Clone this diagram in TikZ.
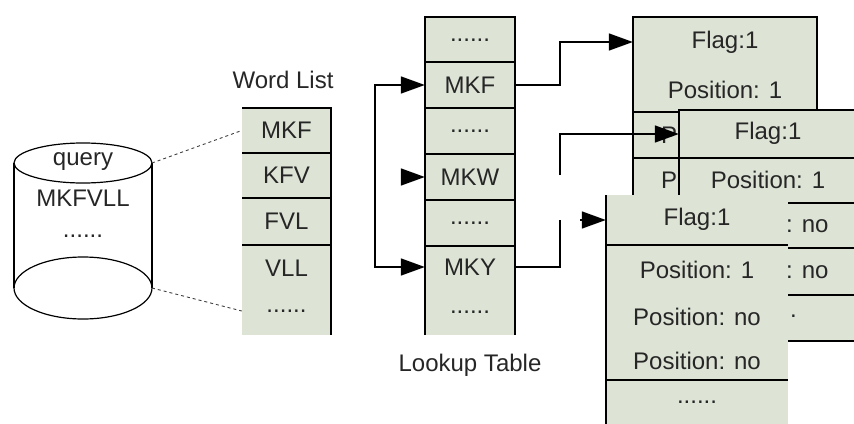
\documentclass[tikz,border=0pt]{standalone}
\usepackage{fontspec}
\setmainfont{Liberation Sans}
\usetikzlibrary{arrows.meta}
\definecolor{cellfill}{RGB}{221,228,214}
\begin{document}
\begin{tikzpicture}[x=1pt,y=-1pt,
  font=\fontsize{24}{28}\selectfont,
  ln/.style={line width=1.6pt, black},
  arr/.style={line width=1.6pt, black, -{Triangle[length=24pt,width=17pt]}},
  dsh/.style={line width=0.9pt, black!75, dash pattern=on 3pt off 3pt},
  txt/.style={inner sep=0pt, text=black!85},
  wcell/.style={txt, minimum width=89pt, minimum height=45pt},
  lcell/.style={txt, minimum width=90pt, minimum height=46pt},
]
\useasboundingbox (0,0) rectangle (854,423);
\clip (0,0) rectangle (854,423);

% ---------- cylinder ----------
\draw[line width=1.2pt] (83,163) ellipse [x radius=69, y radius=20];
\draw[line width=1.2pt] (14,163) -- (14,288) (152,163) -- (152,288);
\draw[line width=1.2pt] (83,288) ellipse [x radius=69, y radius=31];
\node[txt] (q1) at (83,162) {query};
\node[txt] (q2) at (83,198) {MKFVLL};
\node[txt] (q3) at (83,236) {......};
\coordinate (cyltr) at (152,163);
\coordinate (cylbr) at (152,288);

% ---------- word list ----------
\node[txt] (wltitle) at (283,80) {Word List};
\fill[cellfill] (242,108) rectangle (331,335);
\node[wcell] (wl1) at (286.5,130.5) {MKF};
\node[wcell] (wl2) at (286.5,175.5) {KFV};
\node[wcell] (wl3) at (286.5,221.5) {FVL};
\node[wcell] (wl4) at (286.5,268) {VLL};
\node[wcell] (wl5) at (286.5,311) {......};
\draw[ln] (242,108) -- (331,108) -- (331,335);
\draw[ln] (242,153) -- (331,153) (242,198) -- (331,198) (242,245) -- (331,245);
\draw[dsh] (cyltr) -- (wl1.west);
\draw[dsh] (cylbr) -- (wl5.west);

% ---------- lookup table ----------
\fill[cellfill] (425,17) rectangle (515,335);
\node[lcell] (lt0) at (470,40) {......};
\node[lcell] (lt1) at (470,85) {MKF};
\node[lcell] (lt2) at (470,131) {......};
\node[lcell] (lt3) at (470,177) {MKW};
\node[lcell] (lt4) at (470,223) {......};
\node[lcell] (lt5) at (470,267) {MKY};
\node[lcell] (lt6) at (470,312) {......};
\draw[ln] (425,335) -- (425,17) -- (515,17) -- (515,335);
\draw[ln] (425,62) -- (515,62) (425,108) -- (515,108) (425,154) -- (515,154)
          (425,200) -- (515,200) (425,246) -- (515,246);
\node[txt] (lttitle) at (470,365) {Lookup Table};

% word list -> lookup arrows
\draw[ln, {Triangle[length=24pt,width=17pt]}-{Triangle[length=24pt,width=17pt]}]
  (lt1.west) -- ++(-50,0) |- (lt5.west);
\coordinate (c1) at (401,177);
\draw[arr] (c1) -- (lt3.west);

% ---------- record 1 ----------
\fill[cellfill] (633,17) rectangle (817,240);
\draw[ln] (633,240) -- (633,17) -- (817,17) -- (817,240);
\draw[ln] (633,112) -- (817,112) (633,158) -- (817,158);
\node[txt, minimum width=184pt] (r1a) at (725,42) {Flag:1};
\node[txt] (r1b) at (725,90) {Position: 1};
\node[txt, anchor=west] (r1c) at (661,135) {P};
\node[txt, anchor=west] (r1d) at (661,180) {P};

\draw[arr] (lt1.east) -- ++(45,0) |- (r1a.west);

% ---------- record 2 ----------
\coordinate (c2) at (560,175);
\node[txt, minimum width=178pt, minimum height=48pt] (r2a) at (768,134) {};
\draw[arr] (c2) |- (r2a.west);
\fill[cellfill] (679,110) rectangle (860,341);
\draw[ln] (679,110) rectangle (860,341);
\draw[ln] (679,158) -- (860,158) (679,203) -- (860,203) (679,248) -- (860,248) (679,295) -- (860,295);
\node[txt] (r2t) at (768,133) {Flag:1};
\node[txt] (r2b) at (768,180) {Position: 1};
\node[txt, anchor=west] (r2c) at (786,226) {: no};
\node[txt, anchor=west] (r2d) at (786,272) {: no};
\node[txt, anchor=west] (r2e) at (790,316) {.};

% ---------- record 3 ----------
\fill[cellfill] (606,195) rectangle (788,430);
\draw[ln] (606,195) -- (606,430);
\draw[ln] (606,245) -- (788,245) (606,380) -- (788,380);
\node[txt, minimum width=182pt, minimum height=50pt] (r3a) at (697,220) {};
\node[txt] (r3t) at (697,219) {Flag:1};
\node[txt] (r3b) at (697,270) {Position: 1};
\node[txt] (r3c) at (697,317) {Position: no};
\node[txt] (r3d) at (697,361) {Position: no};
\node[txt] (r3e) at (697,402) {......};
\coordinate (c3) at (560,220);
\draw[ln] (lt5.east) -| (c3);
\coordinate (c3t) at (580,220);
\draw[arr] (c3t) -- (r3a.west);
\end{tikzpicture}
\end{document}
